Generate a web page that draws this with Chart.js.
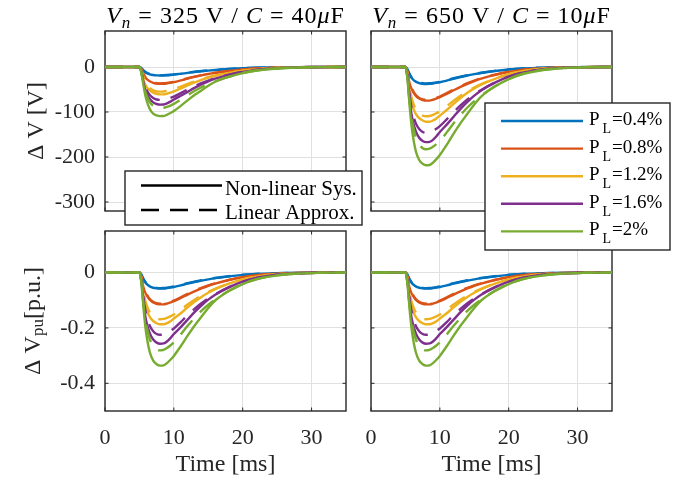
<!DOCTYPE html>
<html>
<head>
<meta charset="utf-8">
<script src="https://cdn.jsdelivr.net/npm/chart.js@4.4.0/dist/chart.umd.min.js"></script>
<style>
  html, body { margin: 0; padding: 0; background: #fff; }
  #wrap { position: relative; width: 686px; height: 478px; }
  #wrap canvas { position: absolute; left: 0; top: 0; }
</style>
</head>
<body>
<div id="wrap">
  <canvas id="pBL" width="686" height="478"></canvas>
  <canvas id="pBR" width="686" height="478"></canvas>
  <canvas id="pTL" width="686" height="478"></canvas>
  <canvas id="pTR" width="686" height="478"></canvas>
</div>
<script>
// time axis [ms]
const timeMs = [0, 5, 5.25, 5.5, 5.75, 6, 6.5, 7, 7.5, 8, 8.5, 9, 9.5, 10, 11, 12, 13, 14, 15, 16, 18, 20, 22, 25, 28, 31, 35];

const loadLabels = ['0.4%', '0.8%', '1.2%', '1.6%', '2%'];
const colors = ['#0072BD', '#D95319', '#EDB120', '#7E2F8E', '#77AC30'];

// voltage deviation in p.u., non-linear system
const nonlin04 = [0, 0, -0.007, -0.020, -0.031, -0.040, -0.050, -0.055, -0.0573, -0.058, -0.0577, -0.0563, -0.0545, -0.0523, -0.0465, -0.0402, -0.0343, -0.029, -0.0245, -0.0204, -0.0138, -0.0086, -0.005, -0.0021, -0.0007, -0.0002, 0];
const nonlin08 = [0, 0, -0.013, -0.045, -0.067, -0.080, -0.098, -0.108, -0.113, -0.115, -0.1148, -0.112, -0.108, -0.1035, -0.092, -0.0795, -0.068, -0.0575, -0.048, -0.040, -0.027, -0.0168, -0.0098, -0.0041, -0.0014, -0.0004, 0];
const nonlin12 = [0, 0, -0.020, -0.070, -0.110, -0.133, -0.160, -0.175, -0.183, -0.187, -0.187, -0.183, -0.176, -0.166, -0.147, -0.126, -0.106, -0.088, -0.073, -0.060, -0.0402, -0.025, -0.0146, -0.0061, -0.0021, -0.0006, 0];
const nonlin16 = [0, 0, -0.025, -0.085, -0.140, -0.177, -0.219, -0.242, -0.253, -0.257, -0.256, -0.249, -0.237, -0.222, -0.197, -0.170, -0.143, -0.119, -0.098, -0.080, -0.0535, -0.0332, -0.0194, -0.0081, -0.0028, -0.0008, 0];
const nonlin20 = [0, 0, -0.030, -0.100, -0.170, -0.222, -0.287, -0.318, -0.331, -0.336, -0.335, -0.327, -0.315, -0.301, -0.266, -0.228, -0.192, -0.160, -0.128, -0.101, -0.067, -0.0415, -0.0243, -0.0101, -0.0035, -0.001, 0];

// voltage deviation in p.u., linear approximation
const lin04 = [0, 0, -0.006, -0.019, -0.030, -0.038, -0.048, -0.053, -0.0555, -0.0562, -0.0558, -0.0545, -0.0527, -0.0505, -0.0447, -0.0385, -0.0328, -0.0277, -0.0233, -0.0196, -0.0132, -0.0082, -0.0048, -0.002, -0.0007, -0.0002, 0];
const lin08 = [0, 0, -0.012, -0.038, -0.060, -0.076, -0.096, -0.106, -0.111, -0.1124, -0.1116, -0.109, -0.1054, -0.101, -0.0894, -0.077, -0.0656, -0.0554, -0.0466, -0.0392, -0.0264, -0.0164, -0.0096, -0.004, -0.0014, -0.0004, 0];
const lin12 = [0, 0, -0.018, -0.057, -0.090, -0.114, -0.144, -0.159, -0.1665, -0.1686, -0.1674, -0.1635, -0.1581, -0.1515, -0.1341, -0.1155, -0.0984, -0.0831, -0.0699, -0.0588, -0.0396, -0.0246, -0.0144, -0.006, -0.0021, -0.0006, 0];
const lin16 = [0, 0, -0.024, -0.076, -0.120, -0.152, -0.192, -0.212, -0.222, -0.2248, -0.2232, -0.218, -0.2108, -0.202, -0.1788, -0.154, -0.1312, -0.1108, -0.0932, -0.0784, -0.0528, -0.0328, -0.0192, -0.008, -0.0028, -0.0008, 0];
const lin20 = [0, 0, -0.030, -0.095, -0.150, -0.190, -0.240, -0.265, -0.2775, -0.281, -0.279, -0.2725, -0.2635, -0.2525, -0.2235, -0.1925, -0.164, -0.1385, -0.1165, -0.098, -0.066, -0.041, -0.024, -0.010, -0.0035, -0.001, 0];

const xTicks = [0, 10, 20, 30];
const yTicksVolt = [0, -100, -200, -300];
const yTicksPu = [0, -0.2, -0.4];
const nominalVolt = [325, 650];

const nonlinSeries = [nonlin04, nonlin08, nonlin12, nonlin16, nonlin20];
const linSeries = [lin04, lin08, lin12, lin16, lin20];

const FONT = '"Liberation Serif", "Times New Roman", serif';
const INK = '#262626';

function fontFor(p, size) {
  const s = p.sub ? (p.subSize || Math.round(size * 0.7)) : size;
  return (p.it ? 'italic ' : '') + s + 'px ' + FONT;
}

function richWidth(ctx, parts, size, gap) {
  let w = 0;
  parts.forEach(p => {
    ctx.font = fontFor(p, size);
    w += ctx.measureText(p.t).width + (p.dx || 0) + (gap || 0) * p.t.length;
  });
  return w;
}

// draws text pieces one after the other (italic / subscript), gap = extra px per char
function drawRich(ctx, parts, x, y, size, align, gap) {
  gap = gap || 0;
  let cx = align === 'center' ? x - richWidth(ctx, parts, size, gap) / 2 : x;
  ctx.textAlign = 'left';
  ctx.textBaseline = 'alphabetic';
  parts.forEach(p => {
    ctx.font = fontFor(p, size);
    cx += p.dx || 0;
    const yy = y + (p.sub ? (p.dy != null ? p.dy : size * 0.22) : 0);
    if (gap) {
      for (const ch of p.t) {
        ctx.fillText(ch, cx, yy);
        cx += ctx.measureText(ch).width + gap;
      }
    } else {
      ctx.fillText(p.t, cx, yy);
      cx += ctx.measureText(p.t).width;
    }
  });
}

function makeLine(vals, i, dashed, scale) {
  return {
    data: timeMs.map((t, k) => ({ x: t, y: vals[k] * scale })),
    borderColor: colors[i],
    borderWidth: 2.4,
    borderDash: dashed ? [18, 11] : [],
    pointRadius: 0,
    cubicInterpolationMode: 'monotone',
    fill: false
  };
}

function drawFrame(chart) {
  const { ctx, chartArea: a, scales } = chart;
  ctx.save();
  ctx.strokeStyle = INK;
  ctx.lineWidth = 1.4;
  ctx.strokeRect(a.left, a.top, a.right - a.left, a.bottom - a.top);
  const tl = 3.5;
  ctx.lineWidth = 1;
  ctx.beginPath();
  scales.x.ticks.forEach(t => {
    const px = scales.x.getPixelForValue(t.value);
    ctx.moveTo(px, a.bottom); ctx.lineTo(px, a.bottom - tl);
    ctx.moveTo(px, a.top); ctx.lineTo(px, a.top + tl);
  });
  scales.y.ticks.forEach(t => {
    const py = scales.y.getPixelForValue(t.value);
    ctx.moveTo(a.left, py); ctx.lineTo(a.left + tl, py);
    ctx.moveTo(a.right, py); ctx.lineTo(a.right - tl, py);
  });
  ctx.stroke();
  ctx.restore();
}

function legendBox(ctx, x0, y0, x1, y1) {
  ctx.fillStyle = '#fff';
  ctx.fillRect(x0, y0, x1 - x0, y1 - y0);
  ctx.strokeStyle = INK;
  ctx.lineWidth = 1.4;
  ctx.strokeRect(x0, y0, x1 - x0, y1 - y0);
}

function styleLegend(ctx) {
  ctx.save();
  legendBox(ctx, 125, 171, 362, 225);
  ctx.strokeStyle = '#000';
  ctx.lineWidth = 2.4;
  ctx.beginPath(); ctx.moveTo(141, 185.5); ctx.lineTo(222, 185.5); ctx.stroke();
  ctx.setLineDash([18, 11]);
  ctx.beginPath(); ctx.moveTo(141, 210); ctx.lineTo(222, 210); ctx.stroke();
  ctx.setLineDash([]);
  ctx.fillStyle = '#000';
  drawRich(ctx, [{ t: 'Non-linear Sys.' }], 225, 194.5, 21);
  drawRich(ctx, [{ t: 'Linear Approx.' }], 225, 219, 21);
  ctx.restore();
}

function loadLegend(ctx) {
  ctx.save();
  legendBox(ctx, 485, 103, 670, 250);
  loadLabels.forEach((lab, i) => {
    const y = 121 + i * 27.6;
    ctx.strokeStyle = colors[i];
    ctx.lineWidth = 2.4;
    ctx.beginPath(); ctx.moveTo(501, y); ctx.lineTo(583, y); ctx.stroke();
    ctx.fillStyle = '#000';
    drawRich(ctx, [{ t: 'P' }, { t: 'L', sub: true, subSize: 14, dy: 8, dx: 3 }, { t: '=' + lab, dx: 1 }], 589, y + 4, 19);
  });
  ctx.restore();
}

function makePanel(cfg) {
  const yAxisW = 60;
  const xAxisH = cfg.showX ? 40 : 0;
  // each load level: solid non-linear curve, then dashed linear one (later ones on top)
  const datasets = [];
  nonlinSeries.forEach((v, i) => {
    datasets.push(makeLine(v, i, false, cfg.scale));
    datasets.push(makeLine(linSeries[i], i, true, cfg.scale));
  });
  datasets.forEach((d, i) => { d.order = datasets.length - i; });

  const decor = {
    id: 'decor_' + cfg.id,
    beforeDatasetsDraw(chart) { drawFrame(chart); },
    afterDraw(chart) {
      const { ctx, chartArea: a } = chart;
      ctx.save();
      ctx.fillStyle = '#000';
      const cx = (a.left + a.right) / 2;
      if (cfg.title) drawRich(ctx, cfg.title, cx, 23, 24, 'center', 1);
      if (cfg.showX) {
        ctx.fillStyle = INK;
        drawRich(ctx, [{ t: 'Time [ms]' }], cx, 471, 24, 'center');
      }
      if (cfg.yLabel) {
        ctx.fillStyle = INK;
        ctx.translate(cfg.yLabelX, (a.top + a.bottom) / 2);
        ctx.rotate(-Math.PI / 2);
        drawRich(ctx, cfg.yLabel, 0, 0, 24, 'center');
      }
      ctx.restore();
      if (cfg.legend) cfg.legend(ctx);
    }
  };

  return new Chart(document.getElementById(cfg.id), {
    type: 'line',
    data: { datasets },
    options: {
      responsive: false,
      animation: false,
      events: [],
      layout: {
        padding: {
          left: cfg.left - yAxisW,
          right: 686 - cfg.right,
          top: cfg.top,
          bottom: 478 - cfg.bottom - xAxisH
        }
      },
      plugins: { legend: { display: false }, tooltip: { enabled: false } },
      scales: {
        x: {
          type: 'linear',
          min: 0,
          max: 35,
          afterBuildTicks: s => { s.ticks = xTicks.map(v => ({ value: v })); },
          afterFit: s => { s.height = xAxisH; },
          ticks: {
            display: cfg.showX,
            padding: 14,
            maxRotation: 0,
            autoSkip: false,
            color: INK,
            font: { family: FONT, size: 22 },
            callback: v => String(v)
          },
          grid: { color: '#e0e0e0', lineWidth: 1, drawTicks: false },
          border: { display: false }
        },
        y: {
          type: 'linear',
          min: cfg.yMin,
          max: cfg.yMax,
          afterBuildTicks: s => { s.ticks = cfg.yTicks.map(v => ({ value: v })); },
          afterFit: s => { s.width = yAxisW; },
          ticks: {
            display: cfg.showY,
            padding: 10,
            color: INK,
            font: { family: FONT, size: 22 },
            callback: v => String(v)
          },
          grid: { color: '#e0e0e0', lineWidth: 1, drawTicks: false },
          border: { display: false }
        }
      }
    },
    plugins: [decor]
  });
}

const titleLeft = [{ t: 'V', it: true }, { t: 'n', it: true, sub: true }, { t: ' = 325 V / ' }, { t: 'C', it: true }, { t: ' = 40' }, { t: 'μ', it: true }, { t: 'F' }];
const titleRight = [{ t: 'V', it: true }, { t: 'n', it: true, sub: true }, { t: ' = 650 V / ' }, { t: 'C', it: true }, { t: ' = 10' }, { t: 'μ', it: true }, { t: 'F' }];

makePanel({ id: 'pBL', left: 105, right: 346, top: 231, bottom: 411, scale: 1, yMin: -0.5, yMax: 0.15, yTicks: yTicksPu, showX: true, showY: true,
  yLabel: [{ t: 'Δ V' }, { t: 'pu', sub: true, subSize: 17, dy: 3 }, { t: '[p.u.]' }], yLabelX: 40 });
makePanel({ id: 'pBR', left: 371, right: 612, top: 231, bottom: 411, scale: 1, yMin: -0.5, yMax: 0.15, yTicks: yTicksPu, showX: true, showY: false });
makePanel({ id: 'pTL', left: 105, right: 346, top: 31, bottom: 211, scale: nominalVolt[0], yMin: -320, yMax: 80, yTicks: yTicksVolt, showX: false, showY: true,
  title: titleLeft, yLabel: [{ t: 'Δ V [V]' }], yLabelX: 43, legend: styleLegend });
makePanel({ id: 'pTR', left: 371, right: 612, top: 31, bottom: 211, scale: nominalVolt[1], yMin: -320, yMax: 80, yTicks: yTicksVolt, showX: false, showY: false,
  title: titleRight, legend: loadLegend });
</script>
</body>
</html>
